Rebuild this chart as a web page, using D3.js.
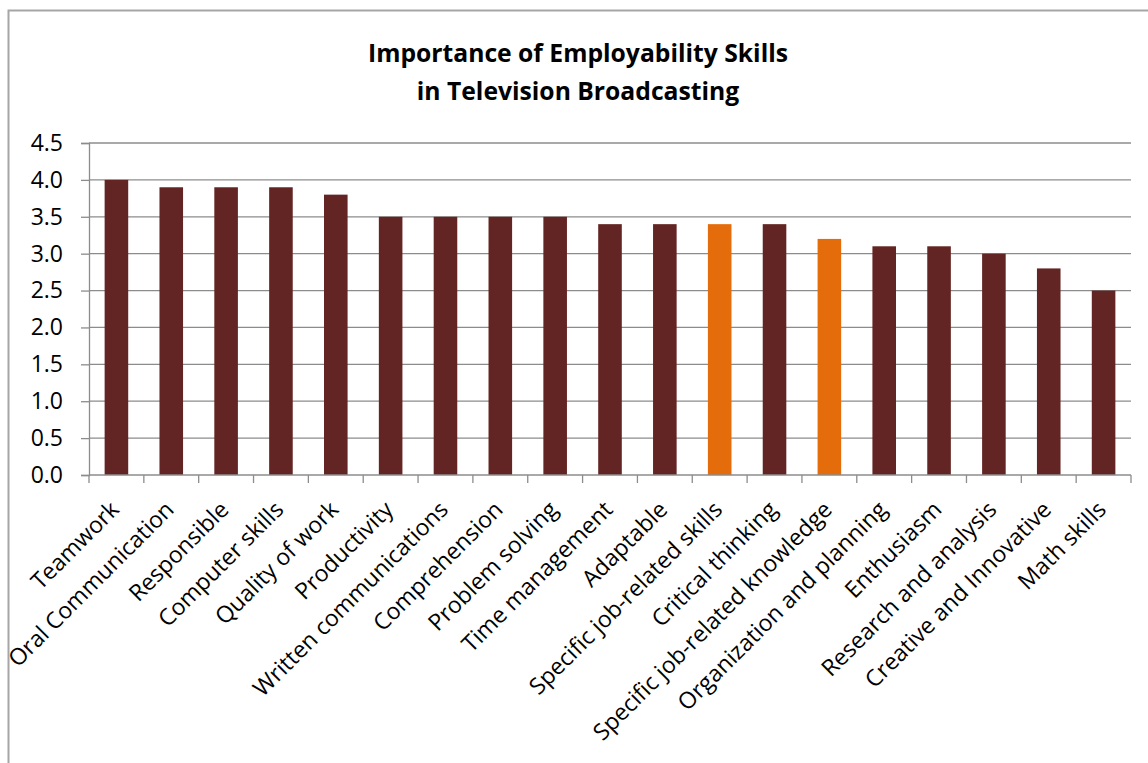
<!DOCTYPE html>
<html>
<head>
  <meta charset="UTF-8">
  <title>Importance of Employability Skills</title>
  <script src="https://cdn.jsdelivr.net/npm/d3@7"></script>
  <style>
    body { margin: 0; background: #fff; }
    text { font-family: "Open Sans", "Noto Sans", sans-serif; fill: #000; }
  </style>
</head>
<body>
  <svg id="chart" width="1148" height="763"></svg>
  <script>
    // chart data
    const skills = ['Teamwork', 'Oral Communication', 'Responsible', 'Computer skills', 'Quality of work',
      'Productivity', 'Written communications', 'Comprehension', 'Problem solving', 'Time management',
      'Adaptable', 'Specific job-related skills', 'Critical thinking', 'Specific job-related knowledge',
      'Organization and planning', 'Enthusiasm', 'Research and analysis', 'Creative and Innovative', 'Math skills'];
    const scores = [4.0, 3.9, 3.9, 3.9, 3.8, 3.5, 3.5, 3.5, 3.5, 3.4, 3.4, 3.4, 3.4, 3.2, 3.1, 3.1, 3.0, 2.8, 2.5];
    const highlighted = ['Specific job-related skills', 'Specific job-related knowledge'];
    const yTicks = [0, 0.5, 1, 1.5, 2, 2.5, 3, 3.5, 4, 4.5];
    const titleLines = ['Importance of Employability Skills', 'in Television Broadcasting'];

    const svg = d3.select('#chart');
    const plotLeft = 89, plotRight = 1131, plotTop = 143, plotBottom = 475;

    // outer frame
    svg.append('rect').attr('x', 8.5).attr('y', 10.5).attr('width', 1160).attr('height', 780)
      .attr('fill', 'none').attr('stroke', '#a6a6a6').attr('stroke-width', 2);

    svg.selectAll('.title').data(titleLines).enter().append('text')
      .attr('x', 578).attr('y', (d, i) => 62 + i * 38)
      .attr('text-anchor', 'middle').attr('font-size', 24.7).attr('font-weight', 'bold')
      .text(d => d);

    const x = d3.scaleBand().domain(skills).range([plotLeft, plotRight]).paddingInner(0.57).paddingOuter(0.285);
    const y = d3.scaleLinear().domain([0, 4.5]).range([plotBottom, plotTop]);

    // gridlines
    svg.append('g').selectAll('line').data(yTicks.slice(1)).enter().append('line')
      .attr('x1', plotLeft).attr('x2', plotRight).attr('y1', d => y(d)).attr('y2', d => y(d))
      .attr('stroke', '#8c8c8c').attr('stroke-width', 1.3);

    // y axis
    const yAxis = svg.append('g').attr('transform', `translate(${plotLeft},0)`)
      .call(d3.axisLeft(y).tickValues(yTicks).tickFormat(d3.format('.1f')).tickSize(8).tickPadding(18));
    yAxis.select('.domain').attr('stroke', '#8c8c8c').attr('stroke-width', 1.3);
    yAxis.selectAll('.tick line').attr('stroke', '#8c8c8c').attr('stroke-width', 1.3);
    yAxis.selectAll('.tick text').attr('font-size', 23).attr('font-family', '"Open Sans", sans-serif');

    // bars
    svg.append('g').selectAll('rect').data(skills).enter().append('rect')
      .attr('x', d => x(d)).attr('width', x.bandwidth())
      .attr('y', (d, i) => y(scores[i])).attr('height', (d, i) => plotBottom - y(scores[i]))
      .attr('fill', d => highlighted.includes(d) ? '#e46c0a' : '#632523');

    // x axis with ticks on category boundaries
    const boundaries = d3.range(skills.length + 1).map(i => plotLeft + i * (plotRight - plotLeft) / skills.length);
    const xg = svg.append('g');
    xg.append('line').attr('x1', plotLeft).attr('x2', plotRight).attr('y1', plotBottom).attr('y2', plotBottom)
      .attr('stroke', '#8c8c8c').attr('stroke-width', 1.3);
    xg.selectAll('.bt').data(boundaries).enter().append('line')
      .attr('x1', d => d).attr('x2', d => d).attr('y1', plotBottom).attr('y2', plotBottom + 8)
      .attr('stroke', '#8c8c8c').attr('stroke-width', 1.3);

    xg.selectAll('.lbl').data(skills).enter().append('text')
      .attr('transform', d => `translate(${x(d) + x.bandwidth() / 2 + 4},${plotBottom + 36}) rotate(-45)`)
      .attr('text-anchor', 'end').attr('font-size', 23)
      .text(d => d);
  </script>
</body>
</html>
